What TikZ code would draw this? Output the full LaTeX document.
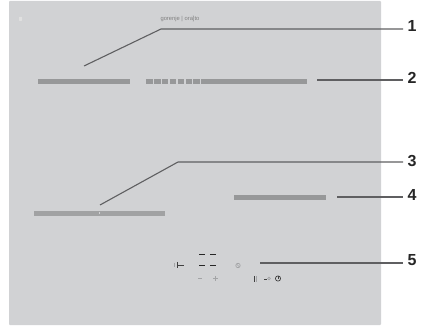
\documentclass[tikz,border=0pt]{standalone}
\usepackage{fontspec}
\setmainfont{Liberation Sans}
\usetikzlibrary{calc}
\definecolor{panelGrey}{HTML}{D1D2D4}
\definecolor{barGrey}{HTML}{979899}
\definecolor{leaderGrey}{HTML}{5F5F61}
\definecolor{iconGrey}{HTML}{A3A4A6}
\tikzset{
  leader/.style={draw=leaderGrey, line width=1.1pt},
  numlabel/.style={anchor=west, inner ysep=0pt, inner xsep=4.5pt, font=\bfseries\fontsize{16}{16}\selectfont, text=black!85},
  bar/.style={fill=barGrey},
  digitdash/.style={draw=black!85, line width=0.8pt},
  softicon/.style={draw=iconGrey, line width=0.7pt},
  darkicon/.style={draw=black!75, line width=0.7pt}
}

\begin{document}
\begin{tikzpicture}[x=1pt,y=-1pt]
  \useasboundingbox (0,0) rectangle (425,328);
  \fill[panelGrey, rounded corners=1pt] (9,1) rectangle (381,325);
  \fill[black!12, rounded corners=0.5pt] (19,17) rectangle (22,21);
  \node[inner sep=0pt, font=\fontsize{5.8}{6}\selectfont, text=black!50] (brand) at (180,19) {gorenje | ora]to};

  % bars
  \fill[bar] (38,79) rectangle (130,84);
  \foreach \i in {0,...,6}
    \fill[bar] ({146+7.9*\i},79) rectangle ({152.6+7.9*\i},84);
  \fill[bar] (201.2,79) rectangle (307,84);
  \fill[barGrey!90!white] (34,211) rectangle (165,216);
  \fill[panelGrey] (98.5,212) rectangle (100,214);
  \fill[bar] (234,195) rectangle (326,200);

  % numbers
  \node[numlabel] (num1) at (403,26) {1};
  \node[numlabel] (num2) at (403,78) {2};
  \node[numlabel] (num3) at (403,161) {3};
  \node[numlabel] (num4) at (403,195) {4};
  \node[numlabel] (num5) at (403,260) {5};

  % leaders
  \coordinate (start1) at (84,66);
  \coordinate (bend1) at (161,29);
  \coordinate (start2) at (317,80);
  \coordinate (start3) at (100,205);
  \coordinate (bend3) at (178,162);
  \coordinate (start4) at (337,197);
  \coordinate (start5) at (260,263);
  \draw[leader] (start1) -- (bend1) -- (bend1 -| num1.west);
  \draw[leader] (start2) -- (start2 -| num2.west);
  \draw[leader] (start3) -- (bend3) -- (bend3 -| num3.west);
  \draw[leader] (start4) -- (start4 -| num4.west);
  \draw[leader] (start5) -- (start5 -| num5.west);

  % controls
  \draw[softicon] (174.5,263) -- (174.5,267);
  \draw[darkicon] (177,262) -- (177,268) (177,265) -- (184,265);
  \foreach \px in {199,210} {
    \draw[digitdash] (\px,254.5) -- (\px+6,254.5);
    \draw[digitdash] (\px,265.5) -- (\px+6,265.5);
  }
  \draw[softicon] (238,265.5) circle (2.2);
  \draw[softicon] (236.5,264) -- (239.5,267);
  \draw[softicon] (198,278.5) -- (202,278.5);
  \draw[softicon] (213,278.5) -- (218,278.5) (215.5,276) -- (215.5,281);
  \draw[darkicon] (254,276) -- (254,282);
  \draw[softicon] (256,276) -- (256,282);
  \draw[darkicon] (264,279) -- (267,279);
  \draw[softicon] (269,278.5) circle (1.4);
  \draw[darkicon] (278,278.5) circle (2.6);
  \draw[darkicon] (278,276.5) -- (278,279);
\end{tikzpicture}
\end{document}
